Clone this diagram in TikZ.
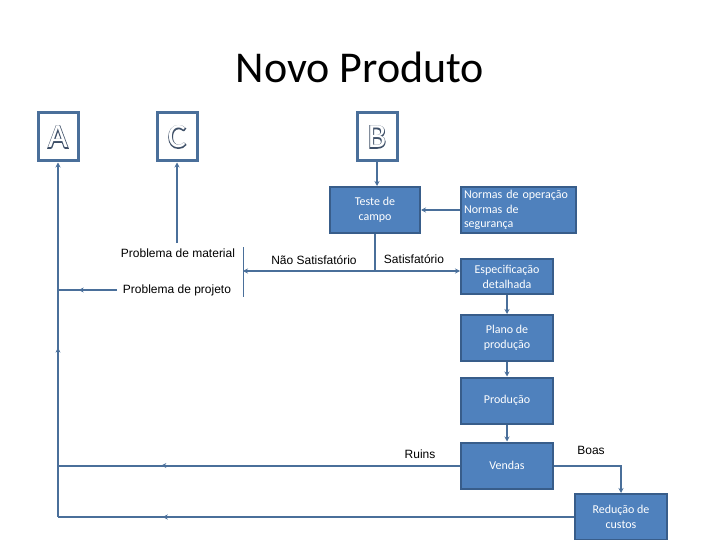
\documentclass[tikz,border=0pt]{standalone}
\usepackage{fontspec}
\setmainfont{Carlito}
\newfontfamily\arialfont{Liberation Sans}
\newfontfamily\fatcarlito[FakeBold=5]{Carlito}
\usetikzlibrary{arrows.meta,positioning,decorations.markings}
\definecolor{boxfill}{HTML}{4F81BD}
\definecolor{boxline}{HTML}{385D8A}
\definecolor{wire}{HTML}{4A6F9A}
\definecolor{ink}{HTML}{000000}
\definecolor{edge}{HTML}{3F5068}
\newcommand\hollow[1]{\rlap{\fatcarlito\color{edge}#1}\textcolor{white}{#1}}
\tikzset{
  stage/.style={rectangle, draw=boxline, fill=boxfill, line width=2pt, text=white,
                align=center, font=\fontsize{12}{15}\selectfont, inner sep=2pt,
                minimum width=92pt, minimum height=46pt},
  letter/.style={rectangle, draw=wire, fill=white, line width=3pt,
                 minimum width=40pt, minimum height=48pt, inner sep=0pt,
                 font=\fontsize{34}{34}\selectfont},
  lbl/.style={font=\arialfont\fontsize{12}{14}\selectfont, text=ink, inner sep=0pt},
  ln/.style={draw=wire, line width=2pt},
  fl/.style={ln, -{Stealth[length=5pt,width=5pt]}},
  midarr/.style={postaction=decorate, decoration={markings,
                 mark=at position #1 with {\arrow{Stealth[length=5pt,width=5pt]}}}}
}
\begin{document}
\begin{tikzpicture}[x=1pt, y=-1pt]
  \useasboundingbox (0,0) rectangle (720,540);
  \node (title) at (360,67) {\fontsize{44}{44}\selectfont Novo Produto};
  \node[letter] (A) at (58,137) {\hollow{A}};
  \node[letter] (C) at (177,137) {\hollow{C}};
  \node[letter] (B) at (377,137) {\hollow{B}};
  \node[stage, minimum width=90pt] (teste) at (375,210) {Teste de\\campo};
  \node[stage, align=left, text width=109pt, inner sep=3pt, font=\fontsize{12}{14.5}\selectfont]
    (normas) at (518.5,210) {Normas de operação\\Normas de\\segurança};
  \node[stage, minimum height=35pt] (espec) at (507,276.5) {Especificação\\detalhada};
  \node[stage] (plano) at (507,338) {Plano de\\produção};
  \node[stage] (prod) at (507,400.5) {Produção};
  \node[stage] (vendas) at (507,465.5) {Vendas};
  \node[stage] (reduc) at (621,517) {Redução de\\custos};
  % text labels
  \node[lbl] (mat) at (178,253) {Problema de material};
  \node[lbl] (proj) at (177,290) {Problema de projeto};
  \node[lbl] (nsat) at (314,260) {Não Satisfatório};
  \node[lbl] (sat) at (414,259) {Satisfatório};
  \node[lbl] (ruins) at (420,454) {Ruins};
  \node[lbl] (boas) at (591,450) {Boas};
  % helper points
  \coordinate (brtop) at (243,247);
  \coordinate (brbot) at (243,297);
  \coordinate (brmid) at (243,271);
  \coordinate (jn) at (teste.south |- brmid);
  \coordinate (matC) at (177,243);
  \coordinate (projend) at (117,290);
  \coordinate (projA) at (A.south |- projend);
  \coordinate (ruinsA) at (A.south |- vendas.west);
  \coordinate (baseA) at (A.south |- reduc.west);
  % connectors
  \draw[fl] (B.south) -- (B.south |- teste.north);
  \draw[fl] (normas.west) -- (teste.east);
  \draw[ln] (teste.south) -- (jn);
  \draw[draw=wire, line width=1pt] (brtop) -- (brbot);
  \draw[fl] (jn) -- (brmid);
  \draw[fl] (jn) -- (espec.west |- brmid);
  \draw[fl] (matC) -- (C.south);
  \draw[ln, midarr=0.65] (projend) -- (projA);
  \draw[fl] (espec) -- (plano);
  \draw[fl] (plano) -- (prod);
  \draw[fl] (prod) -- (vendas);
  \draw[fl] (vendas.east) -| (reduc.north);
  \draw[ln, midarr=0.743] (vendas.west) -- (ruinsA);
  \draw[ln, midarr=0.797] (reduc.west) -- (baseA);
  \draw[fl, midarr=0.478] (baseA) -- (A.south);
\end{tikzpicture}
\end{document}
